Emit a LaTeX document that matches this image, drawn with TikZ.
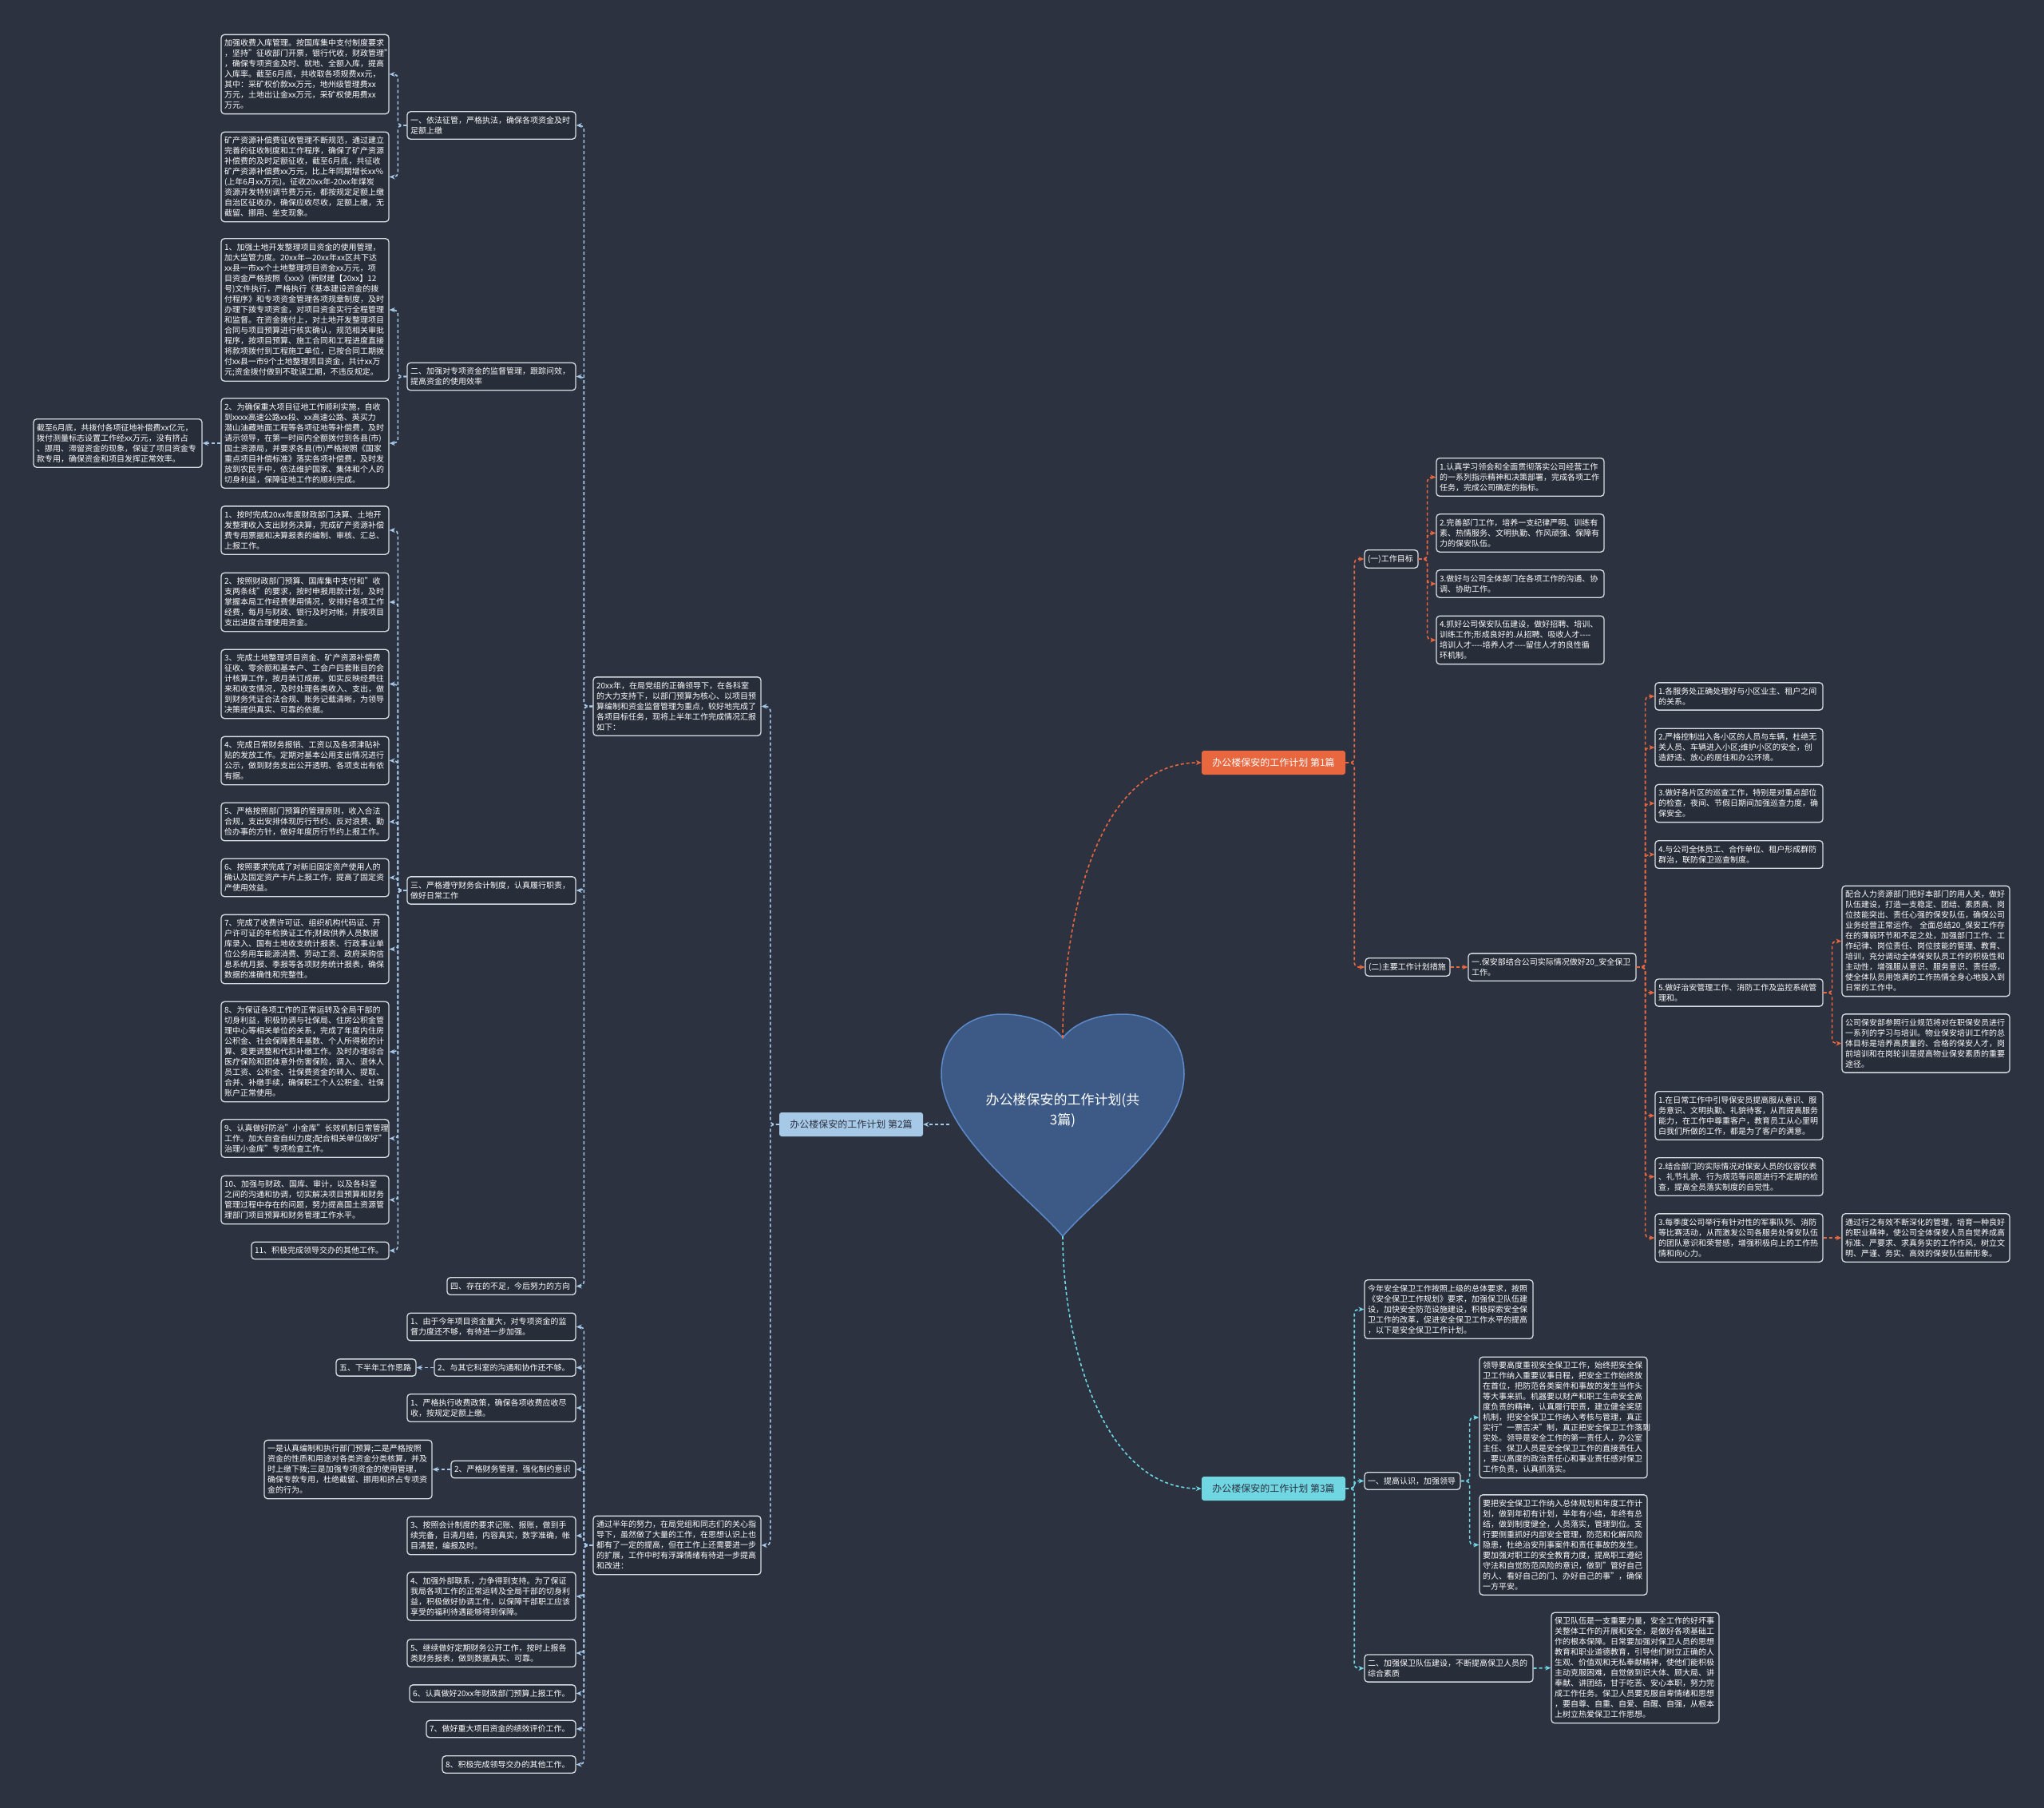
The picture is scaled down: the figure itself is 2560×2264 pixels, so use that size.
\documentclass[tikz,border=0pt]{standalone}
\usepackage{fontspec}
\setmainfont{Noto Sans CJK SC}
\usetikzlibrary{arrows.meta}
\definecolor{bgc}{HTML}{2C3240}
\definecolor{boxc}{HTML}{272D39}
\definecolor{edgec}{HTML}{D9DDE3}
\definecolor{orc}{HTML}{E8673F}
\definecolor{lbc}{HTML}{A7C9E8}
\definecolor{cyc}{HTML}{6FD6E2}
\definecolor{hfill}{HTML}{3C5A85}
\definecolor{hedge}{HTML}{5C8ACB}
\tikzset{
 box/.style={draw=edgec, line width=1.3pt, fill=boxc, rounded corners=4pt, text=white, align=left, inner xsep=4pt, inner ysep=6pt, font=\fontsize{10}{13}\selectfont},
 lab/.style={rounded corners=3pt, minimum width=180pt, minimum height=30pt, inner sep=0pt, font=\fontsize{12}{14}\selectfont},
 conn/.style={dash pattern=on 4pt off 3pt, line width=1.6pt, rounded corners=5pt, -{Stealth[length=7pt,width=6pt]}},
}
\newcommand\mmbox[7][]{%
 \pgfmathsetmacro\mmw{#5-#3-8}%
 \pgfmathsetmacro\mmx{(#3+#5)/2}%
 \pgfmathsetmacro\mmy{(#4+#6)/2}%
 \node[box,#1,text width=\mmw pt] (#2) at (\mmx,\mmy) {#7};}
\newcommand\lconn[3]{\draw[conn,#1] (#2.west) -- ++(-11,0) |- (#3.east);}
\newcommand\rconn[3]{\draw[conn,#1] (#2.east) -- ++(11,0) |- (#3.west);}
\newcommand\lstr[3]{\draw[conn,#1] (#2.west) -- (#3.east);}
\newcommand\rstr[3]{\draw[conn,#1] (#2.east) -- (#3.west);}
\begin{document}
\begin{tikzpicture}[x=1pt,y=-1pt]
\fill[bgc] (0,0) rectangle (2560,2264);
% heart
\draw[fill=hfill, draw=hedge, line width=1.5pt] (1331,1548)
 .. controls (1290,1500) and (1179,1420) .. (1179,1345)
 .. controls (1179,1295) and (1215,1270) .. (1255,1270)
 .. controls (1295,1270) and (1320,1285) .. (1331,1300)
 .. controls (1342,1285) and (1367,1270) .. (1407,1270)
 .. controls (1447,1270) and (1483,1295) .. (1483,1345)
 .. controls (1483,1420) and (1372,1500) .. (1331,1548) -- cycle;
\coordinate (htop) at (1331,1300);
\coordinate (hbot) at (1331,1548);
\coordinate (hleft) at (1189,1408);
\node[font=\fontsize{17}{25}\selectfont, text=white, align=center] (title) at (1331,1390) {办公楼保安的工作计划(共\\3篇)};
% labels
\node[lab, fill=orc, text=white] (l1) at (1595,955) {办公楼保安的工作计划 第1篇};
\node[lab, fill=lbc, text=bgc] (l2) at (1066,1408) {办公楼保安的工作计划 第2篇};
\node[lab, fill=cyc, text=bgc] (l3) at (1595,1864) {办公楼保安的工作计划 第3篇};
% ===== left branch =====
\mmbox{m1}{743}{847}{953}{922}{20xx年，在局党组的正确领导下，在各科室\\的大力支持下，以部门预算为核心、以项目预\\算编制和资金监督管理为重点，较好地完成了\\各项目标任务，现将上半年工作完成情况汇报\\如下：}
\mmbox{m2}{743}{1897}{953}{1973}{通过半年的努力，在局党组和同志们的关心指\\导下，虽然做了大量的工作，在思想认识上也\\都有了一定的提高，但在工作上还需要进一步\\的扩展，工作中时有浮躁情绪有待进一步提高\\和改进：}
\mmbox{b1}{510}{139}{721}{175}{一、依法征管，严格执法，确保各项资金及时\\足额上缴}
\mmbox{a1}{277}{43}{487}{143}{加强收费入库管理。按国库集中支付制度要求\\，坚持"征收部门开票，银行代收，财政管理"\\，确保专项资金及时、就地、全额入库，提高\\入库率。截至6月底，共收取各项规费xx元，\\其中：采矿权价款xx万元，地州级管理费xx\\万元，土地出让金xx万元，采矿权使用费xx\\万元。}
\mmbox{a2}{277}{165}{487}{278}{矿产资源补偿费征收管理不断规范，通过建立\\完善的征收制度和工作程序，确保了矿产资源\\补偿费的及时足额征收，截至6月底，共征收\\矿产资源补偿费xx万元，比上年同期增长xx\%\\(上年6月xx万元)。征收20xx年-20xx年煤炭\\资源开发特别调节费万元，都按规定足额上缴\\自治区征收办，确保应收尽收，足额上缴，无\\截留、挪用、坐支现象。}
\mmbox{b2}{510}{454}{721}{489}{二、加强对专项资金的监督管理，跟踪问效，\\提高资金的使用效率}
\mmbox{a3}{277}{299}{487}{477}{1、加强土地开发整理项目资金的使用管理，\\加大监管力度。20xx年—20xx年xx区共下达\\xx县一市xx个土地整理项目资金xx万元，项\\目资金严格按照《xxx》(新财建【20xx】12\\号)文件执行，严格执行《基本建设资金的拨\\付程序》和专项资金管理各项规章制度，及时\\办理下拨专项资金，对项目资金实行全程管理\\和监督。在资金拨付上，对土地开发整理项目\\合同与项目预算进行核实确认，规范相关审批\\程序，按项目预算、施工合同和工程进度直接\\将款项拨付到工程施工单位，已按合同工期拨\\付xx县一市9个土地整理项目资金，共计xx万\\元;资金拨付做到不耽误工期，不违反规定。}
\mmbox{a4}{277}{498}{487}{612}{2、为确保重大项目征地工作顺利实施，自收\\到xxxx高速公路xx段、xx高速公路、英买力\\潜山油藏地面工程等各项征地等补偿费，及时\\请示领导，在第一时间内全额拨付到各县(市)\\国土资源局，并要求各县(市)严格按照《国家\\重点项目补偿标准》落实各项补偿费，及时发\\放到农民手中，依法维护国家、集体和个人的\\切身利益，保障征地工作的顺利完成。}
\mmbox{c1}{42}{524}{253}{586}{截至6月底，共拨付各项征地补偿费xx亿元，\\拨付测量标志设置工作经xx万元，没有挤占\\、挪用、滞留资金的现象，保证了项目资金专\\款专用，确保资金和项目发挥正常效率。}
\mmbox{b3}{510}{1097}{721}{1133}{三、严格遵守财务会计制度，认真履行职责，\\做好日常工作}
\mmbox{e1}{277}{633}{487}{695}{1、按时完成20xx年度财政部门决算、土地开\\发整理收入支出财务决算，完成矿产资源补偿\\费专用票据和决算报表的编制、审核、汇总、\\上报工作。}
\mmbox{e2}{277}{717}{487}{791}{2、按照财政部门预算、国库集中支付和"收\\支两条线"的要求，按时申报用款计划，及时\\掌握本局工作经费使用情况，安排好各项工作\\经费，每月与财政、银行及时对帐，并按项目\\支出进度合理使用资金。}
\mmbox{e3}{277}{813}{487}{900}{3、完成土地整理项目资金、矿产资源补偿费\\征收、零余额和基本户、工会户四套账目的会\\计核算工作，按月装订成册。如实反映经费往\\来和收支情况，及时处理各类收入、支出，做\\到财务凭证合法合规、账务记载清晰，为领导\\决策提供真实、可靠的依据。}
\mmbox{e4}{277}{922}{487}{983}{4、完成日常财务报销、工资以及各项津贴补\\贴的发放工作。定期对基本公用支出情况进行\\公示，做到财务支出公开透明、各项支出有依\\有据。}
\mmbox{e5}{277}{1005}{487}{1053}{5、严格按照部门预算的管理原则，收入合法\\合规，支出安排体现厉行节约、反对浪费、勤\\俭办事的方针，做好年度厉行节约上报工作。}
\mmbox{e6}{277}{1075}{487}{1123}{6、按照要求完成了对新旧固定资产使用人的\\确认及固定资产卡片上报工作，提高了固定资\\产使用效益。}
\mmbox{e7}{277}{1145}{487}{1232}{7、完成了收费许可证、组织机构代码证、开\\户许可证的年检换证工作;财政供养人员数据\\库录入、国有土地收支统计报表、行政事业单\\位公务用车能源消费、劳动工资、政府采购信\\息系统月报、季报等各项财务统计报表，确保\\数据的准确性和完整性。}
\mmbox{e8}{277}{1254}{487}{1380}{8、为保证各项工作的正常运转及全局干部的\\切身利益，积极协调与社保局、住房公积金管\\理中心等相关单位的关系，完成了年度内住房\\公积金、社会保障费年基数、个人所得税的计\\算、变更调整和代扣补缴工作。及时办理综合\\医疗保险和团体意外伤害保险，调入、退休人\\员工资、公积金、社保费资金的转入、提取、\\合并、补缴手续，确保职工个人公积金、社保\\账户正常使用。}
\mmbox{e9}{277}{1401}{487}{1450}{9、认真做好防治"小金库"长效机制日常管理\\工作。加大自查自纠力度;配合相关单位做好"\\治理小金库"专项检查工作。}
\mmbox{e10}{277}{1472}{487}{1533}{10、加强与财政、国库、审计，以及各科室\\之间的沟通和协调，切实解决项目预算和财务\\管理过程中存在的问题，努力提高国土资源管\\理部门项目预算和财务管理工作水平。}
\mmbox{e11}{315}{1555}{487}{1577}{11、积极完成领导交办的其他工作。}
\mmbox{b4}{560}{1599}{721}{1622}{四、存在的不足，今后努力的方向}
\mmbox{d1}{510}{1644}{721}{1679}{1、由于今年项目资金量大，对专项资金的监\\督力度还不够，有待进一步加强。}
\mmbox{d2}{544}{1701}{721}{1724}{2、与其它科室的沟通和协作还不够。}
\mmbox{d2a}{421}{1701}{521}{1724}{五、下半年工作思路}
\mmbox{d3}{510}{1745}{721}{1781}{1、严格执行收费政策，确保各项收费应收尽\\收，按规定足额上缴。}
\mmbox{d4}{565}{1829}{721}{1851}{2、严格财务管理，强化制约意识}
\mmbox{d4a}{331}{1803}{541}{1877}{一是认真编制和执行部门预算;二是严格按照\\资金的性质和用途对各类资金分类核算，并及\\时上缴下拨;三是加强专项资金的使用管理，\\确保专款专用，杜绝截留、挪用和挤占专项资\\金的行为。}
\mmbox{d5}{510}{1899}{721}{1947}{3、按照会计制度的要求记账、报账，做到手\\续完备，日清月结，内容真实，数字准确，帐\\目清楚，编报及时。}
\mmbox{d6}{510}{1968}{721}{2030}{4、加强外部联系，力争得到支持。为了保证\\我局各项工作的正常运转及全局干部的切身利\\益，积极做好协调工作，以保障干部职工应该\\享受的福利待遇能够得到保障。}
\mmbox{d7}{510}{2052}{721}{2088}{5、继续做好定期财务公开工作，按时上报各\\类财务报表，做到数据真实、可靠。}
\mmbox{d8}{513}{2109}{721}{2132}{6、认真做好20xx年财政部门预算上报工作。}
\mmbox{d9}{534}{2154}{721}{2176}{7、做好重大项目资金的绩效评价工作。}
\mmbox{d10}{554}{2198}{721}{2221}{8、积极完成领导交办的其他工作。}
% ===== right top branch =====
\mmbox{g1}{1709}{688}{1776}{712}{(一)工作目标}
\mmbox{r1}{1799}{573}{2009}{622}{1.认真学习领会和全面贯彻落实公司经营工作\\的一系列指示精神和决策部署，完成各项工作\\任务，完成公司确定的指标。}
\mmbox{r2}{1799}{643}{2009}{692}{2.完善部门工作，培养一支纪律严明、训练有\\素、热情服务、文明执勤、作风顽强、保障有\\力的保安队伍。}
\mmbox{r3}{1799}{713}{2009}{749}{3.做好与公司全体部门在各项工作的沟通、协\\调、协助工作。}
\mmbox{r4}{1799}{770}{2009}{833}{4.抓好公司保安队伍建设，做好招聘、培训、\\训练工作;形成良好的.从招聘、吸收人才-{}-{}-{}-\\培训人才-{}-{}-{}-培养人才-{}-{}-{}-留住人才的良性循\\环机制。}
\mmbox{g2}{1710}{1199}{1816}{1223}{(二)主要工作计划措施}
\mmbox{h1}{1839}{1193}{2049}{1229}{一.保安部结合公司实际情况做好20\_安全保卫\\工作。}
\mmbox{s1}{2073}{854}{2283}{890}{1.各服务处正确处理好与小区业主、租户之间\\的关系。}
\mmbox{s2}{2073}{912}{2283}{960}{2.严格控制出入各小区的人员与车辆，杜绝无\\关人员、车辆进入小区;维护小区的安全，创\\造舒适、放心的居住和办公环境。}
\mmbox{s3}{2073}{982}{2283}{1030}{3.做好各片区的巡查工作，特别是对重点部位\\的检查，夜间、节假日期间加强巡查力度，确\\保安全。}
\mmbox{s4}{2073}{1052}{2283}{1088}{4.与公司全体员工、合作单位、租户形成群防\\群治，联防保卫巡查制度。}
\mmbox{s5}{2073}{1225}{2283}{1261}{5.做好治安管理工作、消防工作及监控系统管\\理和。}
\mmbox{f1}{2307}{1109}{2517}{1248}{配合人力资源部门把好本部门的用人关，做好\\队伍建设，打造一支稳定、团结、素质高、岗\\位技能突出、责任心强的保安队伍，确保公司\\业务经营正常运作。 全面总结20\_保安工作存\\在的薄弱环节和不足之处，加强部门工作、工\\作纪律、岗位责任、岗位技能的管理、教育、\\培训，充分调动全体保安队员工作的积极性和\\主动性，增强服从意识、服务意识、责任感，\\使全体队员用饱满的工作热情全身心地投入到\\日常的工作中。}
\mmbox{f2}{2307}{1269}{2517}{1344}{公司保安部参照行业规范将对在职保安员进行\\一系列的学习与培训。物业保安培训工作的总\\体目标是培养高质量的、合格的保安人才，岗\\前培训和在岗轮训是提高物业保安素质的重要\\途径。}
\mmbox{s6}{2073}{1366}{2283}{1428}{1.在日常工作中引导保安员提高服从意识、服\\务意识、文明执勤、礼貌待客，从而提高服务\\能力，在工作中尊重客户，教育员工从心里明\\白我们所做的工作，都是为了客户的满意。}
\mmbox{s7}{2073}{1449}{2283}{1498}{2.结合部门的实际情况对保安人员的仪容仪表\\、礼节礼貌、行为规范等问题进行不定期的检\\查，提高全员落实制度的自觉性。}
\mmbox{s8}{2073}{1519}{2283}{1581}{3.每季度公司举行有针对性的军事队列、消防\\等比赛活动，从而激发公司各服务处保安队伍\\的团队意识和荣誉感，增强积极向上的工作热\\情和向心力。}
\mmbox{f3}{2307}{1519}{2517}{1581}{通过行之有效不断深化的管理，培育一种良好\\的职业精神，使公司全体保安人员自觉养成高\\标准、严要求、求真务实的工作作风，树立文\\明、严谨、务实、高效的保安队伍新形象。}
% ===== right bottom branch =====
\mmbox{t0}{1709}{1602}{1920}{1677}{今年安全保卫工作按照上级的总体要求，按照\\《安全保卫工作规划》要求，加强保卫队伍建\\设，加快安全防范设施建设，积极探索安全保\\卫工作的改革，促进安全保卫工作水平的提高\\，以下是安全保卫工作计划。}
\mmbox{t1}{1709}{1843}{1829}{1866}{一、提高认识，加强领导}
\mmbox{t1a}{1853}{1699}{2063}{1851}{领导要高度重视安全保卫工作，始终把安全保\\卫工作纳入重要议事日程，把安全工作始终放\\在首位，把防范各类案件和事故的发生当作头\\等大事来抓。机器要以财产和职工生命安全高\\度负责的精神，认真履行职责，建立健全奖惩\\机制，把安全保卫工作纳入考核与管理，真正\\实行"一票否决"制，真正把安全保卫工作落到\\实处。领导是安全工作的第一责任人，办公室\\主任、保卫人员是安全保卫工作的直接责任人\\，要以高度的政治责任心和事业责任感对保卫\\工作负责，认真抓落实。}
\mmbox{t1b}{1853}{1872}{2063}{1997}{要把安全保卫工作纳入总体规划和年度工作计\\划，做到年初有计划，半年有小结，年终有总\\结，做到制度健全，人员落实，管理到位。支\\行要侧重抓好内部安全管理，防范和化解风险\\隐患，杜绝治安刑事案件和责任事故的发生。\\要加强对职工的安全教育力度，提高职工遵纪\\守法和自觉防范风险的意识，做到"管好自己\\的人、看好自己的门、办好自己的事"，确保\\一方平安。}
\mmbox{t2}{1709}{2071}{1920}{2107}{二、加强保卫队伍建设，不断提高保卫人员的\\综合素质}
\mmbox{t2a}{1943}{2019}{2153}{2158}{保卫队伍是一支重要力量，安全工作的好坏事\\关整体工作的开展和安全，是做好各项基础工\\作的根本保障。日常要加强对保卫人员的思想\\教育和职业道德教育，引导他们树立正确的人\\生观、价值观和无私奉献精神，使他们能积极\\主动克服困难，自觉做到识大体、顾大局、讲\\奉献、讲团结，甘于吃苦、安心本职，努力完\\成工作任务。保卫人员要克服自卑情绪和思想\\，要自尊、自重、自爱、自醒、自强，从根本\\上树立热爱保卫工作思想。}
% ===== connectors =====
\draw[conn,orc] (htop) to[out=90,in=180,looseness=0.9] (l1.west);
\draw[conn,cyc] (hbot) to[out=-90,in=180,looseness=0.9] (l3.west);
\draw[conn,lbc] (hleft) -- (l2.east);
% left
\lconn{lbc}{l2}{m1}\lconn{lbc}{l2}{m2}
\lconn{lbc}{m1}{b1}\lconn{lbc}{m1}{b2}\lconn{lbc}{m1}{b3}\lconn{lbc}{m1}{b4}
\lconn{lbc}{b1}{a1}\lconn{lbc}{b1}{a2}
\lconn{lbc}{b2}{a3}\lconn{lbc}{b2}{a4}
\lstr{lbc}{a4}{c1}
\foreach \k in {1,...,11}{\lconn{lbc}{b3}{e\k}}
\foreach \k in {1,...,10}{\lconn{lbc}{m2}{d\k}}
\lstr{lbc}{d2}{d2a}
\lstr{lbc}{d4}{d4a}
% right top
\rconn{orc}{l1}{g1}\rconn{orc}{l1}{g2}
\foreach \k in {1,...,4}{\rconn{orc}{g1}{r\k}}
\rstr{orc}{g2}{h1}
\foreach \k in {1,...,8}{\rconn{orc}{h1}{s\k}}
\rconn{orc}{s5}{f1}\rconn{orc}{s5}{f2}
\rstr{orc}{s8}{f3}
% right bottom
\rconn{cyc}{l3}{t0}\rconn{cyc}{l3}{t1}\rconn{cyc}{l3}{t2}
\rconn{cyc}{t1}{t1a}\rconn{cyc}{t1}{t1b}
\rstr{cyc}{t2}{t2a}
\end{tikzpicture}
\end{document}
